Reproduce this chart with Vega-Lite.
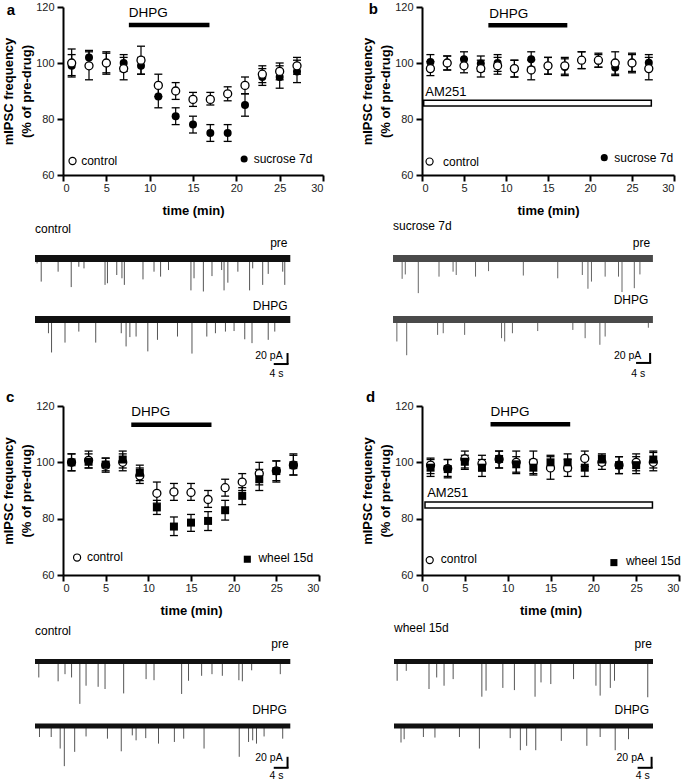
{
"$schema": "https://vega.github.io/schema/vega-lite/v6.json",
"padding": {"left": 2, "top": 1, "right": 0, "bottom": 0},
"bounds": "flush",
"align": "each",
"columns": 2,
"spacing": {"row": 0, "column": 99},
"concat": [
  {"width": 260, "height": 168,
   "layer": [
    {"data": {"name": "freq"}, "transform": [{"filter": "datum.panel == 'a'"}],
     "encoding": {"x": {"field": "time", "type": "quantitative", "scale": {"domain": [0, 30], "nice": false, "zero": false}, "axis": {"values": [0, 5, 10, 15, 20, 25, 30], "title": "time (min)"}}},
     "layer": [
      {"mark": {"type": "rule", "color": "#000", "strokeWidth": 1.2}, "encoding": {"y": {"field": "lo", "type": "quantitative", "scale": {"domain": [60, 120], "nice": false, "zero": false}, "axis": {"values": [60, 80, 100, 120], "title": ["mIPSC frequency", "(% of pre-drug)"]}}, "y2": {"field": "hi"}}},
      {"mark": {"type": "tick", "orient": "horizontal", "color": "#000", "size": 8, "thickness": 1.3, "opacity": 1}, "encoding": {"y": {"field": "lo", "type": "quantitative"}}},
      {"mark": {"type": "tick", "orient": "horizontal", "color": "#000", "size": 8, "thickness": 1.3, "opacity": 1}, "encoding": {"y": {"field": "hi", "type": "quantitative"}}},
      {"transform": [{"filter": "datum.group != 'control'"}], "mark": {"type": "point", "shape": "circle", "filled": true, "color": "#000", "size": 64, "opacity": 1}, "encoding": {"y": {"field": "mean", "type": "quantitative"}}},
      {"transform": [{"filter": "datum.group == 'control'"}], "mark": {"type": "point", "shape": "circle", "filled": true, "fill": "#fff", "stroke": "#000", "strokeWidth": 1.3, "size": 64, "opacity": 1}, "encoding": {"y": {"field": "mean", "type": "quantitative"}}}
     ]},
    {"data": {"values": [{}]}, "mark": {"type": "text", "text": "a", "align": "center", "baseline": "middle", "fontSize": 15, "fontWeight": "bold"}, "encoding": {"x": {"datum": -6.0}, "y": {"datum": 119.1}}},
    {"data": {"values": [{}]}, "mark": {"type": "rule", "color": "#000", "strokeWidth": 4.5, "strokeCap": "butt"}, "encoding": {"x": {"datum": 7.6}, "x2": {"datum": 16.9}, "y": {"datum": 113.6}}},
    {"data": {"values": [{}]}, "mark": {"type": "text", "text": "DHPG", "align": "left", "baseline": "middle", "fontSize": 13.5}, "encoding": {"x": {"datum": 7.6}, "y": {"datum": 118}}},
    {"data": {"values": [{}]}, "mark": {"type": "point", "shape": "circle", "filled": true, "fill": "#fff", "stroke": "#000", "strokeWidth": 1.2, "size": 50, "opacity": 1}, "encoding": {"x": {"datum": 1.1}, "y": {"datum": 65}}},
    {"data": {"values": [{}]}, "mark": {"type": "text", "text": "control", "align": "left", "baseline": "middle", "fontSize": 12}, "encoding": {"x": {"datum": 2.1}, "y": {"datum": 65}}},
    {"data": {"values": [{}]}, "mark": {"type": "point", "shape": "circle", "filled": true, "color": "#000", "size": 50, "opacity": 1}, "encoding": {"x": {"datum": 20.9}, "y": {"datum": 65.7}}},
    {"data": {"values": [{}]}, "mark": {"type": "text", "text": "sucrose 7d", "align": "left", "baseline": "middle", "fontSize": 12}, "encoding": {"x": {"datum": 22.0}, "y": {"datum": 65.6}}}
   ]},
  {"width": 252, "height": 168,
   "layer": [
    {"data": {"name": "freq"}, "transform": [{"filter": "datum.panel == 'b'"}],
     "encoding": {"x": {"field": "time", "type": "quantitative", "scale": {"domain": [0, 30], "nice": false, "zero": false}, "axis": {"values": [0, 5, 10, 15, 20, 25, 30], "title": "time (min)"}}},
     "layer": [
      {"mark": {"type": "rule", "color": "#000", "strokeWidth": 1.2}, "encoding": {"y": {"field": "lo", "type": "quantitative", "scale": {"domain": [60, 120], "nice": false, "zero": false}, "axis": {"values": [60, 80, 100, 120], "title": ["mIPSC frequency", "(% of pre-drug)"]}}, "y2": {"field": "hi"}}},
      {"mark": {"type": "tick", "orient": "horizontal", "color": "#000", "size": 8, "thickness": 1.3, "opacity": 1}, "encoding": {"y": {"field": "lo", "type": "quantitative"}}},
      {"mark": {"type": "tick", "orient": "horizontal", "color": "#000", "size": 8, "thickness": 1.3, "opacity": 1}, "encoding": {"y": {"field": "hi", "type": "quantitative"}}},
      {"transform": [{"filter": "datum.group != 'control'"}], "mark": {"type": "point", "shape": "circle", "filled": true, "color": "#000", "size": 64, "opacity": 1}, "encoding": {"y": {"field": "mean", "type": "quantitative"}}},
      {"transform": [{"filter": "datum.group == 'control'"}], "mark": {"type": "point", "shape": "circle", "filled": true, "fill": "#fff", "stroke": "#000", "strokeWidth": 1.3, "size": 64, "opacity": 1}, "encoding": {"y": {"field": "mean", "type": "quantitative"}}}
     ]},
    {"data": {"values": [{}]}, "mark": {"type": "rect", "fill": "#fff", "stroke": "#000", "strokeWidth": 1.5}, "encoding": {"x": {"datum": 0.2, "scale": {"zero": false}}, "x2": {"datum": 27.3}, "y": {"datum": 84.6, "scale": {"zero": false}}, "y2": {"datum": 86.7}}},
    {"data": {"values": [{}]}, "mark": {"type": "text", "text": "b", "align": "center", "baseline": "middle", "fontSize": 15, "fontWeight": "bold"}, "encoding": {"x": {"datum": -5.8}, "y": {"datum": 119.2}}},
    {"data": {"values": [{}]}, "mark": {"type": "text", "text": "AM251", "align": "left", "baseline": "middle", "fontSize": 13}, "encoding": {"x": {"datum": 0.4}, "y": {"datum": 89.6}}},
    {"data": {"values": [{}]}, "mark": {"type": "rule", "color": "#000", "strokeWidth": 4.5, "strokeCap": "butt"}, "encoding": {"x": {"datum": 7.9}, "x2": {"datum": 17.3}, "y": {"datum": 113.5}}},
    {"data": {"values": [{}]}, "mark": {"type": "text", "text": "DHPG", "align": "left", "baseline": "middle", "fontSize": 13.5}, "encoding": {"x": {"datum": 8.0}, "y": {"datum": 117.6}}},
    {"data": {"values": [{}]}, "mark": {"type": "point", "shape": "circle", "filled": true, "fill": "#fff", "stroke": "#000", "strokeWidth": 1.2, "size": 50, "opacity": 1}, "encoding": {"x": {"datum": 0.9}, "y": {"datum": 64.8}}},
    {"data": {"values": [{}]}, "mark": {"type": "text", "text": "control", "align": "left", "baseline": "middle", "fontSize": 12}, "encoding": {"x": {"datum": 2.5}, "y": {"datum": 64.8}}},
    {"data": {"values": [{}]}, "mark": {"type": "point", "shape": "circle", "filled": true, "color": "#000", "size": 50, "opacity": 1}, "encoding": {"x": {"datum": 21.7}, "y": {"datum": 66.2}}},
    {"data": {"values": [{}]}, "mark": {"type": "text", "text": "sucrose 7d", "align": "left", "baseline": "middle", "fontSize": 12}, "encoding": {"x": {"datum": 22.9}, "y": {"datum": 66}}}
   ]},
  {"width": 260, "height": 126,
   "layer": [
    {"data": {"name": "spikes"}, "transform": [{"filter": "datum.panel == 'a' && datum.trace == 'pre'"}],
     "mark": {"type": "rule", "color": "#555", "strokeWidth": 1},
     "encoding": {"x": {"field": "t", "type": "quantitative", "scale": {"domain": [0, 74], "range": [-28, 248]}, "axis": null},
      "y": {"field": "peak", "type": "quantitative", "scale": {"domain": [-77.3, 151.8], "nice": false}, "axis": null}, "y2": {"datum": 0}}},
    {"data": {"name": "recordings"}, "transform": [{"filter": "datum.panel == 'a' && datum.trace == 'pre'"}],
     "mark": {"type": "rule", "color": "#111", "strokeWidth": 7, "strokeCap": "butt"},
     "encoding": {"x": {"field": "start", "type": "quantitative", "axis": null}, "x2": {"field": "end"}, "y": {"datum": 0, "axis": null}}},
    {"data": {"values": [{}]}, "mark": {"type": "text", "text": "control", "align": "left", "baseline": "middle", "fontSize": 12}, "encoding": {"x": {"datum": 0}, "y": {"datum": 53.6}}},
    {"data": {"values": [{}]}, "mark": {"type": "text", "text": "pre", "align": "right", "baseline": "middle", "fontSize": 12}, "encoding": {"x": {"datum": 73.2}, "y": {"datum": 28.2}}}
   ]},
  {"width": 252, "height": 126,
   "layer": [
    {"data": {"name": "spikes"}, "transform": [{"filter": "datum.panel == 'b' && datum.trace == 'pre'"}],
     "mark": {"type": "rule", "color": "#666", "strokeWidth": 1},
     "encoding": {"x": {"field": "t", "type": "quantitative", "scale": {"domain": [0, 74], "range": [-29, 252]}, "axis": null},
      "y": {"field": "peak", "type": "quantitative", "scale": {"domain": [-77.3, 151.8], "nice": false}, "axis": null}, "y2": {"datum": 0}}},
    {"data": {"name": "recordings"}, "transform": [{"filter": "datum.panel == 'b' && datum.trace == 'pre'"}],
     "mark": {"type": "rule", "color": "#4a4a4a", "strokeWidth": 7, "strokeCap": "butt"},
     "encoding": {"x": {"field": "start", "type": "quantitative", "axis": null}, "x2": {"field": "end"}, "y": {"datum": 0, "axis": null}}},
    {"data": {"values": [{}]}, "mark": {"type": "text", "text": "sucrose 7d", "align": "left", "baseline": "middle", "fontSize": 12}, "encoding": {"x": {"datum": 0}, "y": {"datum": 59}}},
    {"data": {"values": [{}]}, "mark": {"type": "text", "text": "pre", "align": "right", "baseline": "middle", "fontSize": 12}, "encoding": {"x": {"datum": 73.2}, "y": {"datum": 28.2}}}
   ]},
  {"width": 260, "height": 105,
   "layer": [
    {"data": {"name": "spikes"}, "transform": [{"filter": "datum.panel == 'a' && datum.trace == 'DHPG'"}],
     "mark": {"type": "rule", "color": "#555", "strokeWidth": 1},
     "encoding": {"x": {"field": "t", "type": "quantitative", "scale": {"domain": [0, 74], "range": [-28, 248]}, "axis": null},
      "y": {"field": "peak", "type": "quantitative", "scale": {"domain": [-157.3, 33.6], "nice": false}, "axis": null}, "y2": {"datum": 0}}},
    {"data": {"name": "recordings"}, "transform": [{"filter": "datum.panel == 'a' && datum.trace == 'DHPG'"}],
     "mark": {"type": "rule", "color": "#111", "strokeWidth": 7, "strokeCap": "butt"},
     "encoding": {"x": {"field": "start", "type": "quantitative", "axis": null}, "x2": {"field": "end"}, "y": {"datum": 0, "axis": null}}},
    {"data": {"values": [{}]}, "mark": {"type": "text", "text": "DHPG", "align": "right", "baseline": "middle", "fontSize": 12}, "encoding": {"x": {"datum": 73.2}, "y": {"datum": 24.5}}},
    {"data": {"values": [{}]}, "mark": {"type": "rule", "color": "#000", "strokeWidth": 2}, "encoding": {"x": {"datum": 73.2}, "y": {"datum": -61}, "y2": {"datum": -81}}},
    {"data": {"values": [{}]}, "mark": {"type": "rule", "color": "#000", "strokeWidth": 2}, "encoding": {"x": {"datum": 69.2}, "x2": {"datum": 73.5}, "y": {"datum": -81}}},
    {"data": {"values": [{}]}, "mark": {"type": "text", "text": "20 pA", "align": "center", "baseline": "middle", "fontSize": 10.5}, "encoding": {"x": {"datum": 67.8}, "y": {"datum": -66}}},
    {"data": {"values": [{}]}, "mark": {"type": "text", "text": "4 s", "align": "center", "baseline": "middle", "fontSize": 10.5}, "encoding": {"x": {"datum": 70.0}, "y": {"datum": -99}}}
   ]},
  {"width": 252, "height": 105,
   "layer": [
    {"data": {"name": "spikes"}, "transform": [{"filter": "datum.panel == 'b' && datum.trace == 'DHPG'"}],
     "mark": {"type": "rule", "color": "#666", "strokeWidth": 1},
     "encoding": {"x": {"field": "t", "type": "quantitative", "scale": {"domain": [0, 74], "range": [-29, 252]}, "axis": null},
      "y": {"field": "peak", "type": "quantitative", "scale": {"domain": [-157.3, 33.6], "nice": false}, "axis": null}, "y2": {"datum": 0}}},
    {"data": {"name": "recordings"}, "transform": [{"filter": "datum.panel == 'b' && datum.trace == 'DHPG'"}],
     "mark": {"type": "rule", "color": "#4a4a4a", "strokeWidth": 7, "strokeCap": "butt"},
     "encoding": {"x": {"field": "start", "type": "quantitative", "axis": null}, "x2": {"field": "end"}, "y": {"datum": 0, "axis": null}}},
    {"data": {"values": [{}]}, "mark": {"type": "text", "text": "DHPG", "align": "right", "baseline": "middle", "fontSize": 12}, "encoding": {"x": {"datum": 72.7}, "y": {"datum": 35.5}}},
    {"data": {"values": [{}]}, "mark": {"type": "rule", "color": "#000", "strokeWidth": 2}, "encoding": {"x": {"datum": 73.2}, "y": {"datum": -61}, "y2": {"datum": -79}}},
    {"data": {"values": [{}]}, "mark": {"type": "rule", "color": "#000", "strokeWidth": 2}, "encoding": {"x": {"datum": 69.2}, "x2": {"datum": 73.5}, "y": {"datum": -79}}},
    {"data": {"values": [{}]}, "mark": {"type": "text", "text": "20 pA", "align": "center", "baseline": "middle", "fontSize": 10.5}, "encoding": {"x": {"datum": 66.8}, "y": {"datum": -66}}},
    {"data": {"values": [{}]}, "mark": {"type": "text", "text": "4 s", "align": "center", "baseline": "middle", "fontSize": 10.5}, "encoding": {"x": {"datum": 69.8}, "y": {"datum": -99}}}
   ]},
  {"width": 256, "height": 169,
   "layer": [
    {"data": {"name": "freq"}, "transform": [{"filter": "datum.panel == 'c'"}],
     "encoding": {"x": {"field": "time", "type": "quantitative", "scale": {"domain": [0, 30], "nice": false, "zero": false}, "axis": {"values": [0, 5, 10, 15, 20, 25, 30], "title": "time (min)"}}},
     "layer": [
      {"mark": {"type": "rule", "color": "#000", "strokeWidth": 1.2}, "encoding": {"y": {"field": "lo", "type": "quantitative", "scale": {"domain": [60, 120], "nice": false, "zero": false}, "axis": {"values": [60, 80, 100, 120], "title": ["mIPSC frequency", "(% of pre-drug)"]}}, "y2": {"field": "hi"}}},
      {"mark": {"type": "tick", "orient": "horizontal", "color": "#000", "size": 8, "thickness": 1.3, "opacity": 1}, "encoding": {"y": {"field": "lo", "type": "quantitative"}}},
      {"mark": {"type": "tick", "orient": "horizontal", "color": "#000", "size": 8, "thickness": 1.3, "opacity": 1}, "encoding": {"y": {"field": "hi", "type": "quantitative"}}},
      {"transform": [{"filter": "datum.group == 'control'"}], "mark": {"type": "point", "shape": "circle", "filled": true, "fill": "#fff", "stroke": "#000", "strokeWidth": 1.3, "size": 64, "opacity": 1}, "encoding": {"y": {"field": "mean", "type": "quantitative"}}},
      {"transform": [{"filter": "datum.group != 'control'"}], "mark": {"type": "point", "shape": "square", "filled": true, "color": "#000", "size": 64, "opacity": 1}, "encoding": {"y": {"field": "mean", "type": "quantitative"}}}
     ]},
    {"data": {"values": [{}]}, "mark": {"type": "text", "text": "c", "align": "center", "baseline": "middle", "fontSize": 15, "fontWeight": "bold"}, "encoding": {"x": {"datum": -6.2}, "y": {"datum": 123.2}}},
    {"data": {"values": [{}]}, "mark": {"type": "rule", "color": "#000", "strokeWidth": 4.5, "strokeCap": "butt"}, "encoding": {"x": {"datum": 8.0}, "x2": {"datum": 17.4}, "y": {"datum": 113.3}}},
    {"data": {"values": [{}]}, "mark": {"type": "text", "text": "DHPG", "align": "left", "baseline": "middle", "fontSize": 13.5}, "encoding": {"x": {"datum": 8.0}, "y": {"datum": 117.8}}},
    {"data": {"values": [{}]}, "mark": {"type": "point", "shape": "circle", "filled": true, "fill": "#fff", "stroke": "#000", "strokeWidth": 1.2, "size": 50, "opacity": 1}, "encoding": {"x": {"datum": 1.65}, "y": {"datum": 66.2}}},
    {"data": {"values": [{}]}, "mark": {"type": "text", "text": "control", "align": "left", "baseline": "middle", "fontSize": 12}, "encoding": {"x": {"datum": 2.8}, "y": {"datum": 66.5}}},
    {"data": {"values": [{}]}, "mark": {"type": "point", "shape": "square", "filled": true, "color": "#000", "size": 50, "opacity": 1}, "encoding": {"x": {"datum": 21.6}, "y": {"datum": 65.6}}},
    {"data": {"values": [{}]}, "mark": {"type": "text", "text": "wheel 15d", "align": "left", "baseline": "middle", "fontSize": 12}, "encoding": {"x": {"datum": 22.9}, "y": {"datum": 66.2}}}
   ]},
  {"width": 257, "height": 169,
   "layer": [
    {"data": {"name": "freq"}, "transform": [{"filter": "datum.panel == 'd'"}],
     "encoding": {"x": {"field": "time", "type": "quantitative", "scale": {"domain": [0, 30], "nice": false, "zero": false}, "axis": {"values": [0, 5, 10, 15, 20, 25, 30], "title": "time (min)"}}},
     "layer": [
      {"mark": {"type": "rule", "color": "#000", "strokeWidth": 1.2}, "encoding": {"y": {"field": "lo", "type": "quantitative", "scale": {"domain": [60, 120], "nice": false, "zero": false}, "axis": {"values": [60, 80, 100, 120], "title": ["mIPSC frequency", "(% of pre-drug)"]}}, "y2": {"field": "hi"}}},
      {"mark": {"type": "tick", "orient": "horizontal", "color": "#000", "size": 8, "thickness": 1.3, "opacity": 1}, "encoding": {"y": {"field": "lo", "type": "quantitative"}}},
      {"mark": {"type": "tick", "orient": "horizontal", "color": "#000", "size": 8, "thickness": 1.3, "opacity": 1}, "encoding": {"y": {"field": "hi", "type": "quantitative"}}},
      {"transform": [{"filter": "datum.group == 'control'"}], "mark": {"type": "point", "shape": "circle", "filled": true, "fill": "#fff", "stroke": "#000", "strokeWidth": 1.3, "size": 64, "opacity": 1}, "encoding": {"y": {"field": "mean", "type": "quantitative"}}},
      {"transform": [{"filter": "datum.group != 'control'"}], "mark": {"type": "point", "shape": "square", "filled": true, "color": "#000", "size": 64, "opacity": 1}, "encoding": {"y": {"field": "mean", "type": "quantitative"}}}
     ]},
    {"data": {"values": [{}]}, "mark": {"type": "rect", "fill": "#fff", "stroke": "#000", "strokeWidth": 1.5}, "encoding": {"x": {"datum": 0.35, "scale": {"zero": false}}, "x2": {"datum": 26.9}, "y": {"datum": 83.8, "scale": {"zero": false}}, "y2": {"datum": 85.9}}},
    {"data": {"values": [{}]}, "mark": {"type": "text", "text": "d", "align": "center", "baseline": "middle", "fontSize": 15, "fontWeight": "bold"}, "encoding": {"x": {"datum": -6.0}, "y": {"datum": 123.2}}},
    {"data": {"values": [{}]}, "mark": {"type": "text", "text": "AM251", "align": "left", "baseline": "middle", "fontSize": 13}, "encoding": {"x": {"datum": 0.6}, "y": {"datum": 89.1}}},
    {"data": {"values": [{}]}, "mark": {"type": "rule", "color": "#000", "strokeWidth": 4.5, "strokeCap": "butt"}, "encoding": {"x": {"datum": 8.0}, "x2": {"datum": 17.3}, "y": {"datum": 113.5}}},
    {"data": {"values": [{}]}, "mark": {"type": "text", "text": "DHPG", "align": "left", "baseline": "middle", "fontSize": 13.5}, "encoding": {"x": {"datum": 8.0}, "y": {"datum": 117.8}}},
    {"data": {"values": [{}]}, "mark": {"type": "point", "shape": "circle", "filled": true, "fill": "#fff", "stroke": "#000", "strokeWidth": 1.2, "size": 50, "opacity": 1}, "encoding": {"x": {"datum": 0.9}, "y": {"datum": 65.3}}},
    {"data": {"values": [{}]}, "mark": {"type": "text", "text": "control", "align": "left", "baseline": "middle", "fontSize": 12}, "encoding": {"x": {"datum": 2.2}, "y": {"datum": 65.8}}},
    {"data": {"values": [{}]}, "mark": {"type": "point", "shape": "square", "filled": true, "color": "#000", "size": 50, "opacity": 1}, "encoding": {"x": {"datum": 22.4}, "y": {"datum": 64.4}}},
    {"data": {"values": [{}]}, "mark": {"type": "text", "text": "wheel 15d", "align": "left", "baseline": "middle", "fontSize": 12}, "encoding": {"x": {"datum": 23.8}, "y": {"datum": 64.9}}}
   ]},
  {"width": 256, "height": 126,
   "layer": [
    {"data": {"name": "spikes"}, "transform": [{"filter": "datum.panel == 'c' && datum.trace == 'pre'"}],
     "mark": {"type": "rule", "color": "#555", "strokeWidth": 1},
     "encoding": {"x": {"field": "t", "type": "quantitative", "scale": {"domain": [0, 74], "range": [-28, 248]}, "axis": null},
      "y": {"field": "peak", "type": "quantitative", "scale": {"domain": [-71.8, 157.3], "nice": false}, "axis": null}, "y2": {"datum": 0}}},
    {"data": {"name": "recordings"}, "transform": [{"filter": "datum.panel == 'c' && datum.trace == 'pre'"}],
     "mark": {"type": "rule", "color": "#111", "strokeWidth": 5, "strokeCap": "butt"},
     "encoding": {"x": {"field": "start", "type": "quantitative", "axis": null}, "x2": {"field": "end"}, "y": {"datum": 0, "axis": null}}},
    {"data": {"values": [{}]}, "mark": {"type": "text", "text": "control", "align": "left", "baseline": "middle", "fontSize": 12}, "encoding": {"x": {"datum": 0}, "y": {"datum": 55.5}}},
    {"data": {"values": [{}]}, "mark": {"type": "text", "text": "pre", "align": "right", "baseline": "middle", "fontSize": 12}, "encoding": {"x": {"datum": 73.5}, "y": {"datum": 31.8}}}
   ]},
  {"width": 257, "height": 126,
   "layer": [
    {"data": {"name": "spikes"}, "transform": [{"filter": "datum.panel == 'd' && datum.trace == 'pre'"}],
     "mark": {"type": "rule", "color": "#555", "strokeWidth": 1},
     "encoding": {"x": {"field": "t", "type": "quantitative", "scale": {"domain": [0, 74], "range": [-28, 252]}, "axis": null},
      "y": {"field": "peak", "type": "quantitative", "scale": {"domain": [-71.8, 157.3], "nice": false}, "axis": null}, "y2": {"datum": 0}}},
    {"data": {"name": "recordings"}, "transform": [{"filter": "datum.panel == 'd' && datum.trace == 'pre'"}],
     "mark": {"type": "rule", "color": "#111", "strokeWidth": 5, "strokeCap": "butt"},
     "encoding": {"x": {"field": "start", "type": "quantitative", "axis": null}, "x2": {"field": "end"}, "y": {"datum": 0, "axis": null}}},
    {"data": {"values": [{}]}, "mark": {"type": "text", "text": "wheel 15d", "align": "left", "baseline": "middle", "fontSize": 12}, "encoding": {"x": {"datum": 0}, "y": {"datum": 61}}},
    {"data": {"values": [{}]}, "mark": {"type": "text", "text": "pre", "align": "right", "baseline": "middle", "fontSize": 12}, "encoding": {"x": {"datum": 73.7}, "y": {"datum": 31.8}}}
   ]},
  {"width": 256, "height": 80,
   "layer": [
    {"data": {"name": "spikes"}, "transform": [{"filter": "datum.panel == 'c' && datum.trace == 'DHPG'"}],
     "mark": {"type": "rule", "color": "#555", "strokeWidth": 1},
     "encoding": {"x": {"field": "t", "type": "quantitative", "scale": {"domain": [0, 74], "range": [-28, 248]}, "axis": null},
      "y": {"field": "peak", "type": "quantitative", "scale": {"domain": [-100, 45.5], "nice": false}, "axis": null}, "y2": {"datum": 0}}},
    {"data": {"name": "recordings"}, "transform": [{"filter": "datum.panel == 'c' && datum.trace == 'DHPG'"}],
     "mark": {"type": "rule", "color": "#111", "strokeWidth": 5, "strokeCap": "butt"},
     "encoding": {"x": {"field": "start", "type": "quantitative", "axis": null}, "x2": {"field": "end"}, "y": {"datum": 0, "axis": null}}},
    {"data": {"values": [{}]}, "mark": {"type": "text", "text": "DHPG", "align": "right", "baseline": "middle", "fontSize": 12}, "encoding": {"x": {"datum": 73}, "y": {"datum": 29}}},
    {"data": {"values": [{}]}, "mark": {"type": "rule", "color": "#000", "strokeWidth": 2}, "encoding": {"x": {"datum": 73.2}, "y": {"datum": -56}, "y2": {"datum": -76}}},
    {"data": {"values": [{}]}, "mark": {"type": "rule", "color": "#000", "strokeWidth": 2}, "encoding": {"x": {"datum": 69.2}, "x2": {"datum": 73.5}, "y": {"datum": -76}}},
    {"data": {"values": [{}]}, "mark": {"type": "text", "text": "20 pA", "align": "center", "baseline": "middle", "fontSize": 10.5}, "encoding": {"x": {"datum": 67.8}, "y": {"datum": -59}}},
    {"data": {"values": [{}]}, "mark": {"type": "text", "text": "4 s", "align": "center", "baseline": "middle", "fontSize": 10.5}, "encoding": {"x": {"datum": 70.0}, "y": {"datum": -91}}}
   ]},
  {"width": 257, "height": 80,
   "layer": [
    {"data": {"name": "spikes"}, "transform": [{"filter": "datum.panel == 'd' && datum.trace == 'DHPG'"}],
     "mark": {"type": "rule", "color": "#555", "strokeWidth": 1},
     "encoding": {"x": {"field": "t", "type": "quantitative", "scale": {"domain": [0, 74], "range": [-28, 252]}, "axis": null},
      "y": {"field": "peak", "type": "quantitative", "scale": {"domain": [-100, 45.5], "nice": false}, "axis": null}, "y2": {"datum": 0}}},
    {"data": {"name": "recordings"}, "transform": [{"filter": "datum.panel == 'd' && datum.trace == 'DHPG'"}],
     "mark": {"type": "rule", "color": "#111", "strokeWidth": 5, "strokeCap": "butt"},
     "encoding": {"x": {"field": "start", "type": "quantitative", "axis": null}, "x2": {"field": "end"}, "y": {"datum": 0, "axis": null}}},
    {"data": {"values": [{}]}, "mark": {"type": "text", "text": "DHPG", "align": "right", "baseline": "middle", "fontSize": 12}, "encoding": {"x": {"datum": 72.9}, "y": {"datum": 29}}},
    {"data": {"values": [{}]}, "mark": {"type": "rule", "color": "#000", "strokeWidth": 2}, "encoding": {"x": {"datum": 73.6}, "y": {"datum": -56}, "y2": {"datum": -76}}},
    {"data": {"values": [{}]}, "mark": {"type": "rule", "color": "#000", "strokeWidth": 2}, "encoding": {"x": {"datum": 69.6}, "x2": {"datum": 73.9}, "y": {"datum": -76}}},
    {"data": {"values": [{}]}, "mark": {"type": "text", "text": "20 pA", "align": "center", "baseline": "middle", "fontSize": 10.5}, "encoding": {"x": {"datum": 67.5}, "y": {"datum": -59}}},
    {"data": {"values": [{}]}, "mark": {"type": "text", "text": "4 s", "align": "center", "baseline": "middle", "fontSize": 10.5}, "encoding": {"x": {"datum": 71.1}, "y": {"datum": -91}}}
   ]}
],
"datasets": {
"freq": [
{"panel":"a","group":"control","time":1,"mean":100,"lo":95.5,"hi":105},
{"panel":"a","group":"control","time":3,"mean":99,"lo":94,"hi":104},
{"panel":"a","group":"control","time":5,"mean":100,"lo":96.5,"hi":103.5},
{"panel":"a","group":"control","time":7,"mean":98,"lo":94,"hi":102},
{"panel":"a","group":"control","time":9,"mean":101,"lo":96,"hi":106},
{"panel":"a","group":"control","time":11,"mean":92,"lo":88,"hi":96},
{"panel":"a","group":"control","time":13,"mean":90,"lo":87,"hi":93},
{"panel":"a","group":"control","time":15,"mean":87,"lo":84.5,"hi":89.5},
{"panel":"a","group":"control","time":17,"mean":87,"lo":85,"hi":89.5},
{"panel":"a","group":"control","time":19,"mean":89,"lo":86.5,"hi":91.5},
{"panel":"a","group":"control","time":21,"mean":92,"lo":89,"hi":95},
{"panel":"a","group":"control","time":23,"mean":96,"lo":93,"hi":99},
{"panel":"a","group":"control","time":25,"mean":97,"lo":94,"hi":100},
{"panel":"a","group":"control","time":27,"mean":99,"lo":96,"hi":102},
{"panel":"a","group":"sucrose 7d","time":1,"mean":99,"lo":95,"hi":103},
{"panel":"a","group":"sucrose 7d","time":3,"mean":102,"lo":99.5,"hi":104.5},
{"panel":"a","group":"sucrose 7d","time":5,"mean":100,"lo":96,"hi":104},
{"panel":"a","group":"sucrose 7d","time":7,"mean":100,"lo":97,"hi":103},
{"panel":"a","group":"sucrose 7d","time":9,"mean":99,"lo":96,"hi":102},
{"panel":"a","group":"sucrose 7d","time":11,"mean":88,"lo":84,"hi":92},
{"panel":"a","group":"sucrose 7d","time":13,"mean":81,"lo":78,"hi":84},
{"panel":"a","group":"sucrose 7d","time":15,"mean":78,"lo":75,"hi":81},
{"panel":"a","group":"sucrose 7d","time":17,"mean":75,"lo":72,"hi":78},
{"panel":"a","group":"sucrose 7d","time":19,"mean":75,"lo":72,"hi":78},
{"panel":"a","group":"sucrose 7d","time":21,"mean":85,"lo":81,"hi":89},
{"panel":"a","group":"sucrose 7d","time":23,"mean":95,"lo":92,"hi":98},
{"panel":"a","group":"sucrose 7d","time":25,"mean":95,"lo":91,"hi":99},
{"panel":"a","group":"sucrose 7d","time":27,"mean":97,"lo":93,"hi":101},
{"panel":"b","group":"control","time":1,"mean":98,"lo":95.5,"hi":100.5},
{"panel":"b","group":"control","time":3,"mean":100,"lo":97.5,"hi":102.5},
{"panel":"b","group":"control","time":5,"mean":99,"lo":96.5,"hi":101.5},
{"panel":"b","group":"control","time":7,"mean":98,"lo":95,"hi":101},
{"panel":"b","group":"control","time":9,"mean":99,"lo":96,"hi":102},
{"panel":"b","group":"control","time":11,"mean":98,"lo":95,"hi":101},
{"panel":"b","group":"control","time":13,"mean":97.5,"lo":94,"hi":101},
{"panel":"b","group":"control","time":15,"mean":99,"lo":96,"hi":102},
{"panel":"b","group":"control","time":17,"mean":99,"lo":96,"hi":102},
{"panel":"b","group":"control","time":19,"mean":101,"lo":98,"hi":104},
{"panel":"b","group":"control","time":21,"mean":101,"lo":98.5,"hi":103.5},
{"panel":"b","group":"control","time":23,"mean":100,"lo":96,"hi":104},
{"panel":"b","group":"control","time":25,"mean":100,"lo":96.5,"hi":103.5},
{"panel":"b","group":"control","time":27,"mean":98,"lo":94,"hi":102},
{"panel":"b","group":"sucrose 7d","time":1,"mean":100.4,"lo":97.5,"hi":103},
{"panel":"b","group":"sucrose 7d","time":3,"mean":100,"lo":97.5,"hi":102.5},
{"panel":"b","group":"sucrose 7d","time":5,"mean":101.3,"lo":98.5,"hi":104},
{"panel":"b","group":"sucrose 7d","time":7,"mean":99.8,"lo":97,"hi":102.5},
{"panel":"b","group":"sucrose 7d","time":9,"mean":100,"lo":97,"hi":103},
{"panel":"b","group":"sucrose 7d","time":11,"mean":98,"lo":95,"hi":101},
{"panel":"b","group":"sucrose 7d","time":13,"mean":101.3,"lo":98.5,"hi":104},
{"panel":"b","group":"sucrose 7d","time":15,"mean":99,"lo":96,"hi":102},
{"panel":"b","group":"sucrose 7d","time":17,"mean":98.6,"lo":95.5,"hi":101.5},
{"panel":"b","group":"sucrose 7d","time":19,"mean":101,"lo":98,"hi":104},
{"panel":"b","group":"sucrose 7d","time":21,"mean":100.8,"lo":98.5,"hi":103},
{"panel":"b","group":"sucrose 7d","time":23,"mean":98.4,"lo":95.5,"hi":100.5},
{"panel":"b","group":"sucrose 7d","time":25,"mean":100,"lo":97,"hi":103},
{"panel":"b","group":"sucrose 7d","time":27,"mean":100.1,"lo":97.5,"hi":103},
{"panel":"c","group":"control","time":1,"mean":100,"lo":97,"hi":103},
{"panel":"c","group":"control","time":3,"mean":100.7,"lo":98,"hi":104},
{"panel":"c","group":"control","time":5,"mean":99,"lo":96.5,"hi":101.5},
{"panel":"c","group":"control","time":7,"mean":100,"lo":97,"hi":103},
{"panel":"c","group":"control","time":9,"mean":95.2,"lo":92.5,"hi":98},
{"panel":"c","group":"control","time":11,"mean":89,"lo":85.5,"hi":93},
{"panel":"c","group":"control","time":13,"mean":89.5,"lo":86.5,"hi":92.5},
{"panel":"c","group":"control","time":15,"mean":89.3,"lo":86.5,"hi":92.5},
{"panel":"c","group":"control","time":17,"mean":86.8,"lo":84,"hi":90},
{"panel":"c","group":"control","time":19,"mean":91,"lo":88,"hi":94},
{"panel":"c","group":"control","time":21,"mean":93,"lo":90,"hi":96},
{"panel":"c","group":"control","time":23,"mean":96,"lo":92,"hi":100},
{"panel":"c","group":"control","time":25,"mean":97,"lo":93.5,"hi":100.5},
{"panel":"c","group":"control","time":27,"mean":99,"lo":95.5,"hi":103},
{"panel":"c","group":"wheel 15d","time":1,"mean":100,"lo":97,"hi":103},
{"panel":"c","group":"wheel 15d","time":3,"mean":100.2,"lo":98,"hi":103},
{"panel":"c","group":"wheel 15d","time":5,"mean":99.2,"lo":97,"hi":101.5},
{"panel":"c","group":"wheel 15d","time":7,"mean":101,"lo":98,"hi":104},
{"panel":"c","group":"wheel 15d","time":9,"mean":96.3,"lo":93.5,"hi":99},
{"panel":"c","group":"wheel 15d","time":11,"mean":84,"lo":81.5,"hi":86.5},
{"panel":"c","group":"wheel 15d","time":13,"mean":77.2,"lo":74,"hi":80.6},
{"panel":"c","group":"wheel 15d","time":15,"mean":78.6,"lo":75.5,"hi":81.5},
{"panel":"c","group":"wheel 15d","time":17,"mean":79.2,"lo":75.8,"hi":82.5},
{"panel":"c","group":"wheel 15d","time":19,"mean":83,"lo":79.5,"hi":86.5},
{"panel":"c","group":"wheel 15d","time":21,"mean":88.1,"lo":85,"hi":91},
{"panel":"c","group":"wheel 15d","time":23,"mean":94,"lo":90,"hi":97.5},
{"panel":"c","group":"wheel 15d","time":25,"mean":96.9,"lo":93,"hi":100.5},
{"panel":"c","group":"wheel 15d","time":27,"mean":99,"lo":95.5,"hi":102.5},
{"panel":"d","group":"control","time":1,"mean":99,"lo":96,"hi":101.5},
{"panel":"d","group":"control","time":3,"mean":97.8,"lo":95,"hi":101},
{"panel":"d","group":"control","time":5,"mean":101.2,"lo":98,"hi":104},
{"panel":"d","group":"control","time":7,"mean":99.6,"lo":97,"hi":102.5},
{"panel":"d","group":"control","time":9,"mean":101.1,"lo":98,"hi":104},
{"panel":"d","group":"control","time":11,"mean":100,"lo":96,"hi":104},
{"panel":"d","group":"control","time":13,"mean":100,"lo":96,"hi":104},
{"panel":"d","group":"control","time":15,"mean":98,"lo":94,"hi":102},
{"panel":"d","group":"control","time":17,"mean":98,"lo":95,"hi":101},
{"panel":"d","group":"control","time":19,"mean":101.4,"lo":98.5,"hi":104},
{"panel":"d","group":"control","time":21,"mean":100,"lo":97.5,"hi":102.5},
{"panel":"d","group":"control","time":23,"mean":99,"lo":96,"hi":102},
{"panel":"d","group":"control","time":25,"mean":100,"lo":97,"hi":103},
{"panel":"d","group":"control","time":27,"mean":100,"lo":97,"hi":103.5},
{"panel":"d","group":"wheel 15d","time":1,"mean":98.1,"lo":95,"hi":101},
{"panel":"d","group":"wheel 15d","time":3,"mean":97.6,"lo":94.5,"hi":101},
{"panel":"d","group":"wheel 15d","time":5,"mean":100.2,"lo":97.5,"hi":102.5},
{"panel":"d","group":"wheel 15d","time":7,"mean":98.1,"lo":95,"hi":101},
{"panel":"d","group":"wheel 15d","time":9,"mean":101.2,"lo":98,"hi":104},
{"panel":"d","group":"wheel 15d","time":11,"mean":99.3,"lo":96.5,"hi":102},
{"panel":"d","group":"wheel 15d","time":13,"mean":98.1,"lo":95.5,"hi":101},
{"panel":"d","group":"wheel 15d","time":15,"mean":100,"lo":97.5,"hi":102.5},
{"panel":"d","group":"wheel 15d","time":17,"mean":100,"lo":97,"hi":103},
{"panel":"d","group":"wheel 15d","time":19,"mean":98.1,"lo":95,"hi":101},
{"panel":"d","group":"wheel 15d","time":21,"mean":101,"lo":99,"hi":103},
{"panel":"d","group":"wheel 15d","time":23,"mean":99,"lo":96,"hi":102},
{"panel":"d","group":"wheel 15d","time":25,"mean":99,"lo":96,"hi":102},
{"panel":"d","group":"wheel 15d","time":27,"mean":101,"lo":98,"hi":104}
],
"recordings": [
{"panel":"a","trace":"pre","start":0,"end":74},
{"panel":"a","trace":"DHPG","start":0,"end":74},
{"panel":"b","trace":"pre","start":0,"end":74},
{"panel":"b","trace":"DHPG","start":0,"end":74},
{"panel":"c","trace":"pre","start":0,"end":74},
{"panel":"c","trace":"DHPG","start":0,"end":74},
{"panel":"d","trace":"pre","start":0,"end":74},
{"panel":"d","trace":"DHPG","start":0,"end":74}
],
"spikes": [
{"panel":"a","trace":"pre","t":0.6,"peak":-9},{"panel":"a","trace":"pre","t":1.8,"peak":-42},{"panel":"a","trace":"pre","t":6.7,"peak":-24},{"panel":"a","trace":"pre","t":10.5,"peak":-52},{"panel":"a","trace":"pre","t":12.7,"peak":-15},{"panel":"a","trace":"pre","t":14.2,"peak":-18},{"panel":"a","trace":"pre","t":20.3,"peak":-48},{"panel":"a","trace":"pre","t":21.0,"peak":-45},{"panel":"a","trace":"pre","t":23.7,"peak":-30},{"panel":"a","trace":"pre","t":25.2,"peak":-36},{"panel":"a","trace":"pre","t":25.9,"peak":-48},{"panel":"a","trace":"pre","t":31.3,"peak":-38},{"panel":"a","trace":"pre","t":34.5,"peak":-24},{"panel":"a","trace":"pre","t":36.4,"peak":-33},{"panel":"a","trace":"pre","t":38.7,"peak":-21},{"panel":"a","trace":"pre","t":45.2,"peak":-58},{"panel":"a","trace":"pre","t":46.1,"peak":-36},{"panel":"a","trace":"pre","t":48.8,"peak":-60},{"panel":"a","trace":"pre","t":51.3,"peak":-32},{"panel":"a","trace":"pre","t":54.1,"peak":-21},{"panel":"a","trace":"pre","t":54.8,"peak":-58},{"panel":"a","trace":"pre","t":55.9,"peak":-44},{"panel":"a","trace":"pre","t":58.8,"peak":-24},{"panel":"a","trace":"pre","t":62.2,"peak":-58},{"panel":"a","trace":"pre","t":63.1,"peak":-18},{"panel":"a","trace":"pre","t":66.0,"peak":-48},{"panel":"a","trace":"pre","t":67.6,"peak":-28},{"panel":"a","trace":"pre","t":71.8,"peak":-24},{"panel":"a","trace":"pre","t":72.4,"peak":-48},
{"panel":"a","trace":"DHPG","t":3.9,"peak":-25},{"panel":"a","trace":"DHPG","t":4.8,"peak":-60},{"panel":"a","trace":"DHPG","t":8.7,"peak":-42},{"panel":"a","trace":"DHPG","t":12.7,"peak":-22},{"panel":"a","trace":"DHPG","t":17.6,"peak":-42},{"panel":"a","trace":"DHPG","t":25.0,"peak":-25},{"panel":"a","trace":"DHPG","t":26.4,"peak":-49},{"panel":"a","trace":"DHPG","t":27.5,"peak":-32},{"panel":"a","trace":"DHPG","t":29.3,"peak":-31},{"panel":"a","trace":"DHPG","t":32.7,"peak":-58},{"panel":"a","trace":"DHPG","t":35.5,"peak":-37},{"panel":"a","trace":"DHPG","t":41.3,"peak":-31},{"panel":"a","trace":"DHPG","t":45.5,"peak":-62},{"panel":"a","trace":"DHPG","t":49.8,"peak":-31},{"panel":"a","trace":"DHPG","t":52.3,"peak":-25},{"panel":"a","trace":"DHPG","t":55.2,"peak":-22},{"panel":"a","trace":"DHPG","t":57.7,"peak":-21},{"panel":"a","trace":"DHPG","t":60.8,"peak":-36},{"panel":"a","trace":"DHPG","t":62.9,"peak":-43},{"panel":"a","trace":"DHPG","t":67.6,"peak":-37},{"panel":"a","trace":"DHPG","t":69.5,"peak":-22},
{"panel":"b","trace":"pre","t":2.6,"peak":-37},{"panel":"b","trace":"pre","t":3.5,"peak":-29},{"panel":"b","trace":"pre","t":7.2,"peak":-63},{"panel":"b","trace":"pre","t":13.1,"peak":-33},{"panel":"b","trace":"pre","t":17.1,"peak":-24},{"panel":"b","trace":"pre","t":18.0,"peak":-30},{"panel":"b","trace":"pre","t":23.5,"peak":-33},{"panel":"b","trace":"pre","t":27.2,"peak":-23},{"panel":"b","trace":"pre","t":37.1,"peak":-31},{"panel":"b","trace":"pre","t":46.9,"peak":-36},{"panel":"b","trace":"pre","t":53.9,"peak":-30},{"panel":"b","trace":"pre","t":55.5,"peak":-55},{"panel":"b","trace":"pre","t":56.5,"peak":-42},{"panel":"b","trace":"pre","t":60.4,"peak":-33},{"panel":"b","trace":"pre","t":64.2,"peak":-33},{"panel":"b","trace":"pre","t":65.2,"peak":-61},{"panel":"b","trace":"pre","t":68.7,"peak":-54},{"panel":"b","trace":"pre","t":70.3,"peak":-29},
{"panel":"b","trace":"DHPG","t":1.1,"peak":-40},{"panel":"b","trace":"DHPG","t":3.9,"peak":-65},{"panel":"b","trace":"DHPG","t":12.7,"peak":-28},{"panel":"b","trace":"DHPG","t":14.3,"peak":-25},{"panel":"b","trace":"DHPG","t":20.4,"peak":-28},{"panel":"b","trace":"DHPG","t":30.9,"peak":-34},{"panel":"b","trace":"DHPG","t":31.8,"peak":-40},{"panel":"b","trace":"DHPG","t":34.0,"peak":-25},{"panel":"b","trace":"DHPG","t":41.2,"peak":-21},{"panel":"b","trace":"DHPG","t":51.2,"peak":-19},{"panel":"b","trace":"DHPG","t":54.7,"peak":-34},{"panel":"b","trace":"DHPG","t":58.9,"peak":-46},{"panel":"b","trace":"DHPG","t":60.4,"peak":-31},{"panel":"b","trace":"DHPG","t":72.7,"peak":-15},
{"panel":"c","trace":"pre","t":1.1,"peak":-29},{"panel":"c","trace":"pre","t":6.7,"peak":-36},{"panel":"c","trace":"pre","t":8.7,"peak":-23},{"panel":"c","trace":"pre","t":10.6,"peak":-29},{"panel":"c","trace":"pre","t":13.0,"peak":-77},{"panel":"c","trace":"pre","t":14.8,"peak":-44},{"panel":"c","trace":"pre","t":18.3,"peak":-46},{"panel":"c","trace":"pre","t":20.3,"peak":-50},{"panel":"c","trace":"pre","t":25.7,"peak":-58},{"panel":"c","trace":"pre","t":32.2,"peak":-32},{"panel":"c","trace":"pre","t":34.5,"peak":-34},{"panel":"c","trace":"pre","t":42.5,"peak":-59},{"panel":"c","trace":"pre","t":44.5,"peak":-35},{"panel":"c","trace":"pre","t":48.3,"peak":-26},{"panel":"c","trace":"pre","t":51.3,"peak":-23},{"panel":"c","trace":"pre","t":54.3,"peak":-26},{"panel":"c","trace":"pre","t":59.1,"peak":-34},{"panel":"c","trace":"pre","t":60.1,"peak":-36},{"panel":"c","trace":"pre","t":62.8,"peak":-16},{"panel":"c","trace":"pre","t":71.1,"peak":-23},
{"panel":"c","trace":"DHPG","t":1.3,"peak":-20},{"panel":"c","trace":"DHPG","t":4.7,"peak":-20},{"panel":"c","trace":"DHPG","t":7.3,"peak":-41},{"panel":"c","trace":"DHPG","t":8.5,"peak":-73},{"panel":"c","trace":"DHPG","t":11.5,"peak":-47},{"panel":"c","trace":"DHPG","t":14.8,"peak":-19},{"panel":"c","trace":"DHPG","t":21.0,"peak":-23},{"panel":"c","trace":"DHPG","t":25.0,"peak":-46},{"panel":"c","trace":"DHPG","t":28.2,"peak":-17},{"panel":"c","trace":"DHPG","t":29.3,"peak":-26},{"panel":"c","trace":"DHPG","t":32.1,"peak":-22},{"panel":"c","trace":"DHPG","t":35.8,"peak":-32},{"panel":"c","trace":"DHPG","t":40.4,"peak":-29},{"panel":"c","trace":"DHPG","t":43.1,"peak":-23},{"panel":"c","trace":"DHPG","t":49.0,"peak":-41},{"panel":"c","trace":"DHPG","t":59.2,"peak":-56},{"panel":"c","trace":"DHPG","t":61.9,"peak":-29},{"panel":"c","trace":"DHPG","t":63.1,"peak":-26},{"panel":"c","trace":"DHPG","t":64.2,"peak":-32},{"panel":"c","trace":"DHPG","t":66.4,"peak":-19},{"panel":"c","trace":"DHPG","t":71.8,"peak":-23},
{"panel":"d","trace":"pre","t":0.9,"peak":-35},{"panel":"d","trace":"pre","t":3.5,"peak":-17},{"panel":"d","trace":"pre","t":10.0,"peak":-50},{"panel":"d","trace":"pre","t":12.2,"peak":-29},{"panel":"d","trace":"pre","t":14.3,"peak":-44},{"panel":"d","trace":"pre","t":16.9,"peak":-32},{"panel":"d","trace":"pre","t":25.1,"peak":-64},{"panel":"d","trace":"pre","t":26.3,"peak":-53},{"panel":"d","trace":"pre","t":31.1,"peak":-48},{"panel":"d","trace":"pre","t":34.4,"peak":-52},{"panel":"d","trace":"pre","t":40.3,"peak":-64},{"panel":"d","trace":"pre","t":42.0,"peak":-38},{"panel":"d","trace":"pre","t":44.8,"peak":-41},{"panel":"d","trace":"pre","t":51.3,"peak":-32},{"panel":"d","trace":"pre","t":57.7,"peak":-44},{"panel":"d","trace":"pre","t":58.9,"peak":-62},{"panel":"d","trace":"pre","t":61.8,"peak":-48},{"panel":"d","trace":"pre","t":63.0,"peak":-35},{"panel":"d","trace":"pre","t":72.5,"peak":-65},
{"panel":"d","trace":"DHPG","t":2.0,"peak":-30},{"panel":"d","trace":"DHPG","t":2.9,"peak":-24},{"panel":"d","trace":"DHPG","t":8.4,"peak":-20},{"panel":"d","trace":"DHPG","t":11.7,"peak":-21},{"panel":"d","trace":"DHPG","t":18.7,"peak":-20},{"panel":"d","trace":"DHPG","t":24.4,"peak":-41},{"panel":"d","trace":"DHPG","t":33.2,"peak":-22},{"panel":"d","trace":"DHPG","t":36.1,"peak":-44},{"panel":"d","trace":"DHPG","t":37.9,"peak":-36},{"panel":"d","trace":"DHPG","t":40.5,"peak":-44},{"panel":"d","trace":"DHPG","t":47.8,"peak":-27},{"panel":"d","trace":"DHPG","t":55.1,"peak":-36},{"panel":"d","trace":"DHPG","t":58.9,"peak":-20},{"panel":"d","trace":"DHPG","t":63.2,"peak":-44},{"panel":"d","trace":"DHPG","t":67.0,"peak":-24}
]
},
"config": {
 "view": {"stroke": null},
 "font": "Liberation Sans",
 "axis": {"grid": false, "domainColor": "#000", "domainWidth": 2, "tickColor": "#000", "tickWidth": 2, "tickSize": 6, "labelFontSize": 11, "labelColor": "#222", "labelFont": "Liberation Sans", "titleFont": "Liberation Sans", "titleFontSize": 13, "titleFontWeight": "bold", "titleColor": "#000"},
 "axisX": {"labelPadding": 1, "titlePadding": 11},
 "axisY": {"labelPadding": 3, "titlePadding": 2, "titleLineHeight": 18},
 "title": {"font": "Liberation Sans", "color": "#000"},
 "text": {"font": "Liberation Sans", "color": "#000"}
}
}
